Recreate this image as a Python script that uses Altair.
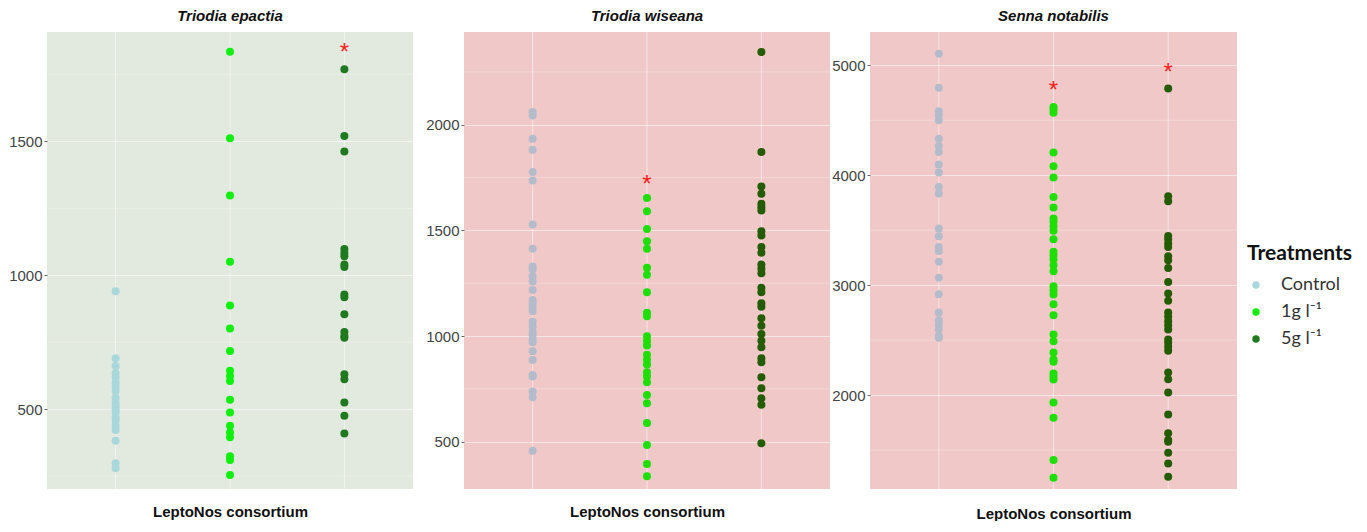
import altair as alt
import pandas as pd

# ---------------- data ----------------
treatments = ["Control", "1g l⁻¹", "5g l⁻¹"]
x_pos = [1, 2, 3]

titles = ["Triodia epactia", "Triodia wiseana", "Senna notabilis"]

te_control = [940, 690, 661, 634, 618, 599, 583, 568, 543, 525, 512, 500, 488,
              469, 457, 438, 422, 382, 298, 279]
te_1g = [1834, 1511, 1298, 1050, 887, 801, 717, 643, 624, 605, 535, 488, 438,
         413, 395, 324, 310, 254]
te_5g = [1769, 1520, 1462, 1098, 1083, 1071, 1040, 1031, 928, 918, 854, 788,
         773, 767, 630, 612, 525, 475, 409]

tw_control = [2060, 2044, 1934, 1882, 1776, 1736, 1528, 1413, 1329, 1315, 1282,
              1258, 1218, 1171, 1155, 1136, 1117, 1068, 1045, 1021, 1005, 983,
              971, 928, 887, 816, 808, 738, 710, 457]
tw_1g = [1653, 1591, 1507, 1449, 1413, 1323, 1290, 1207, 1110, 1094, 999, 978,
         955, 911, 888, 865, 828, 809, 781, 721, 682, 588, 484, 394, 336]
tw_5g = [2344, 1871, 1708, 1673, 1626, 1610, 1594, 1496, 1476, 1421, 1394, 1338,
         1318, 1297, 1228, 1207, 1155, 1139, 1084, 1049, 1010, 978, 947, 895,
         876, 805, 753, 705, 675, 492]

sn_control = [5106, 4797, 4582, 4545, 4500, 4333, 4266, 4212, 4097, 4024, 3894,
              3833, 3515, 3445, 3348, 3312, 3212, 3067, 2918, 2752, 2682, 2642,
              2600, 2539, 2521]
sn_1g = [4621, 4597, 4569, 4206, 4082, 3979, 3803, 3706, 3606, 3576, 3536, 3494,
         3418, 3303, 3273, 3236, 3182, 3127, 2991, 2955, 2915, 2827, 2727, 2551,
         2491, 2388, 2324, 2303, 2197, 2167, 2142, 1933, 1794, 1409, 1249]
sn_5g = [4788, 3809, 3763, 3448, 3418, 3379, 3348, 3264, 3227, 3157, 3030, 2924,
         2858, 2752, 2712, 2673, 2636, 2597, 2506, 2476, 2439, 2403, 2206, 2145,
         2024, 1824, 1652, 1591, 1576, 1476, 1379, 1258]

# significance stars: (panel, x position, value)
star_panel = [0, 1, 2, 2]
star_x = [3, 2, 2, 3]
star_y = [1852, 1741, 4824, 4985]

y_domains = [[202, 1908], [276, 2439], [1146, 5303]]
major_ticks = [[500, 1000, 1500], [500, 1000, 1500, 2000],
               [2000, 3000, 4000, 5000]]
minor_ticks = [[250, 750, 1250, 1750], [750, 1250, 1750, 2250],
               [1500, 2500, 3500, 4500]]

panel_bg = ["#e2e9df", "#f0c8c8", "#f0c8c8"]
# colour keys: panel 1 uses its own palette, panels 2-3 a different one
color_keys = ["p1-Control", "p1-1g", "p1-5g", "p2-Control", "p2-1g", "p2-5g"]
color_vals = ["#a9d8dc", "#0ff00f", "#1f7a1f", "#b4bccc", "#1ee000", "#245c00"]

series = [
    [te_control, te_1g, te_5g],
    [tw_control, tw_1g, tw_5g],
    [sn_control, sn_1g, sn_5g],
]

axis_extent = [39, 50, 39]
panel_w = [366, 366, 367]
H = 457

label_expr = ("datum.label == 'p1-Control' ? 'Control' : "
              "datum.label == 'p1-1g' ? '1g l⁻¹' : '5g l⁻¹'")

panels = []
for p in range(3):
    rows = []
    for t, vals in enumerate(series[p]):
        pref = "p1" if p == 0 else "p2"
        key = pref + "-" + ["Control", "1g", "5g"][t]
        for v in vals:
            rows.append({"x": x_pos[t], "value": v, "key": key})
    df = pd.DataFrame(rows)

    yscale = alt.Scale(domain=y_domains[p], nice=False, zero=False)
    xscale = alt.Scale(domain=[0.4, 3.6], nice=False, zero=False)

    x_axis = alt.Axis(title="LeptoNos consortium", labels=False,
                      ticks=False, domain=False, grid=False,
                      titleFont="Liberation Sans", titleFontSize=15,
                      titleFontWeight="bold", titleColor="#111111",
                      titlePadding=15 if p < 2 else 17)
    y_axis = alt.Axis(title=None, values=major_ticks[p], grid=True,
                      format="d",
                      gridColor="white", gridOpacity=0.55,
                      gridWidth=1, domain=False, tickSize=3,
                      tickColor="#666666", labelFontSize=15,
                      labelFont="Liberation Sans",
                      labelColor="#444444", labelPadding=2,
                      minExtent=axis_extent[p],
                      maxExtent=axis_extent[p])

    if p == 0:
        color_enc = alt.Color(
            "key:N",
            scale=alt.Scale(domain=color_keys, range=color_vals),
            legend=alt.Legend(
                title="Treatments",
                values=["p1-Control", "p1-1g", "p1-5g"],
                labelExpr=label_expr,
                orient="none", legendX=1200, legendY=211,
                titleFont="Lato", titleFontSize=21,
                titleFontWeight="bold", titleColor="#111111",
                titlePadding=12,
                labelFont="Lato", labelFontSize=18,
                labelColor="#333333", symbolType="circle",
                symbolSize=55, symbolStrokeWidth=0,
                rowPadding=9, labelOffset=16, padding=0))
    else:
        color_enc = alt.Color(
            "key:N",
            scale=alt.Scale(domain=color_keys, range=color_vals),
            legend=None)

    minor_df = pd.DataFrame({"v": minor_ticks[p]})
    vgrid_df = pd.DataFrame({"x": x_pos})
    minor = alt.Chart(minor_df).mark_rule(color="white", strokeWidth=0.8,
                                          opacity=0.35).encode(
        y=alt.Y("v:Q", scale=yscale, axis=y_axis))
    vgrid = alt.Chart(vgrid_df).mark_rule(color="white", strokeWidth=1,
                                          opacity=0.5).encode(
        x=alt.X("x:Q", scale=xscale, axis=x_axis))

    pts = alt.Chart(df).mark_circle(size=64, opacity=1).encode(
        x=alt.X("x:Q", scale=xscale, axis=x_axis),
        y=alt.Y("value:Q", scale=yscale, axis=y_axis),
        color=color_enc,
    )

    sdf = pd.DataFrame({"x": [star_x[i] for i in range(len(star_x))
                              if star_panel[i] == p],
                        "value": [star_y[i] for i in range(len(star_y))
                                  if star_panel[i] == p]})
    stars = alt.Chart(sdf).mark_text(text="*", color="#ff2020", fontSize=24,
                                     font="Liberation Sans",
                                     baseline="alphabetic", dy=13).encode(
        x=alt.X("x:Q", scale=xscale, axis=x_axis),
        y=alt.Y("value:Q", scale=yscale, axis=y_axis))

    layer = alt.layer(minor, vgrid, pts, stars).properties(
        width=panel_w[p], height=H,
        title=alt.TitleParams(titles[p], fontStyle="italic",
                              fontWeight="bold", fontSize=15,
                              font="Liberation Sans", color="#111111",
                              offset=8),
        view=alt.ViewBackground(fill=panel_bg[p], strokeWidth=0),
    )
    panels.append(layer)

chart = alt.hconcat(*panels, spacing=0).properties(
    padding={"left": 0, "top": 0, "right": 0, "bottom": 0}
).configure_view(strokeWidth=0)

chart.save("out.html", embed_options={"renderer": "svg", "actions": False})
